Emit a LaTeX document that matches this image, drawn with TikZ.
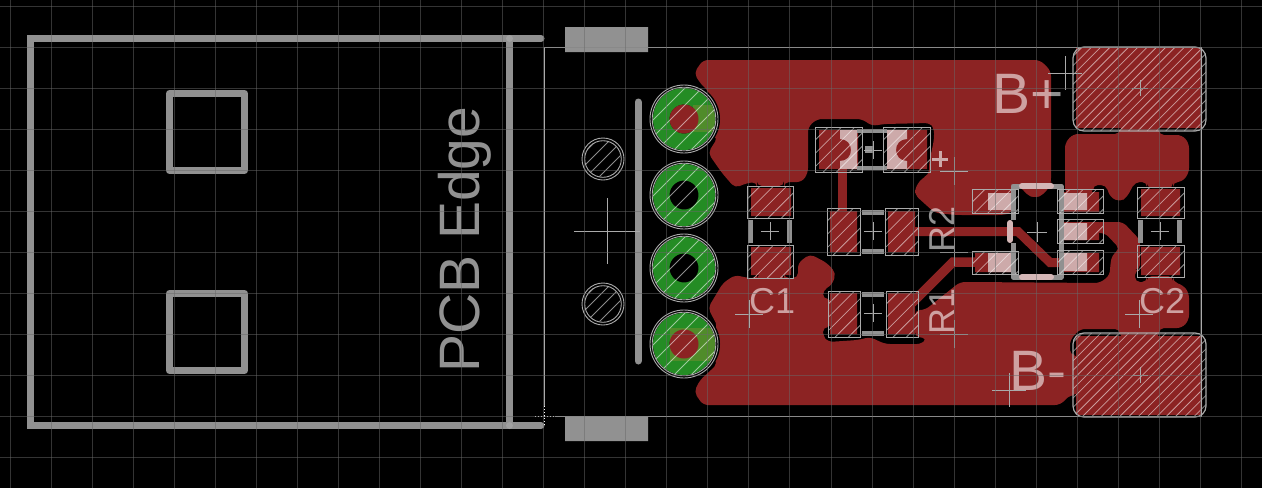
\documentclass[tikz,border=0pt]{standalone}
\usepackage{fontspec}
\setmainfont{Liberation Sans}
\definecolor{silk}{RGB}{145,145,145}
\definecolor{pale}{RGB}{205,170,170}
\definecolor{pour}{RGB}{140,35,35}
\definecolor{via}{RGB}{36,140,36}
\definecolor{vialt}{RGB}{80,140,42}
\definecolor{padline}{RGB}{170,170,170}
\tikzset{
  pourfill/.style={fill=pour,rounded corners=5pt},
  silkline/.style={draw=silk,line width=7pt},
  bar/.style={draw=silk,line width=5pt},
  hatchline/.style={draw=white,opacity=.55,line width=.8pt},
  redpad/.style={fill=pour},
  patch/.style={fill=pale},
  cross/.style={draw=padline,line width=1pt},
  silktext/.style={text=silk,inner sep=0pt,font=\fontsize{36}{36}\selectfont},
  bigtext/.style={text=silk,inner sep=0pt,font=\fontsize{57}{57}\selectfont},
}
\newcommand{\xcross}[3]{\draw[cross] (#1-#3,#2) -- (#1+#3,#2) (#1,#2-#3) -- (#1,#2+#3);}
\newcommand{\hatchlines}[5]{%
  \pgfmathtruncatemacro\hn{(((#3)-(#1))+((#4)-(#2)))/(#5)+1}%
  \foreach \k in {0,...,\hn} \draw[hatchline] ({(#1)-((#4)-(#2))+\k*(#5)},{#4}) -- ++({(#4)-(#2)},{-((#4)-(#2))});%
}
\newcommand{\hpad}[5][13.3]{%
  \begin{scope}\clip (#2,#3) rectangle (#4,#5);\hatchlines{#2}{#3}{#4}{#5}{#1}\end{scope}%
  \draw[padline,line width=1pt] (#2,#3) rectangle (#4,#5);%
}
\newcommand{\bigpad}[4]{%
  \begin{scope}\clip[rounded corners=11pt] (#1,#2) rectangle (#3,#4);\hatchlines{#1}{#2}{#3}{#4}{9.3}\end{scope}%
  \draw[padline,line width=1.2pt,rounded corners=11pt] (#1,#2) rectangle (#3,#4);%
}
\newcommand{\thole}[2]{%
  \fill[black] (#1,#2) circle (36);
  \fill[via,even odd rule] (#1,#2) circle (31) (#1,#2) circle (14.5);
}
\newcommand{\tholetop}[2]{%
  \begin{scope}\clip (#1,#2) circle (31.5);\hatchlines{#1-32}{#2-32}{#1+32}{#2+32}{17}\end{scope}
  \draw[padline,line width=.9pt] (#1,#2) circle (34) (#1,#2) circle (31.8);
}
\newcommand{\mhole}[2]{%
  \begin{scope}\clip (#1,#2) circle (18);\hatchlines{#1-19}{#2-19}{#1+19}{#2+19}{13}\end{scope}
  \draw[padline,line width=.9pt] (#1,#2) circle (21) (#1,#2) circle (18.3);
}
\begin{document}
\begin{tikzpicture}[x=1pt,y=-1pt]
\useasboundingbox (0,0) rectangle (1262,488);
\fill[black] (0,0) rectangle (1262,488);

% copper pours
\fill[pourfill] (703,60) -- (1040,60) -- (1051,71) -- (1051,183) -- (1050,186) -- (1043,195) -- (1035,198) -- (1027,195) -- (1020,186)
  -- (1012,188) -- (1012,213) -- (1003,215) -- (957,215) -- (935,213) -- (915,195) -- (915,188) -- (922,178) -- (929,175) -- (929,163)
  -- (934,140) -- (934,128) -- (930,123) -- (884,124) -- (872,126) -- (862,119) -- (817,119) -- (808,127) -- (808,173) -- (802,182)
  -- (784,182) -- (784,186) -- (757,186) -- (757,182) -- (747,183) -- (735,188) -- (722,173) -- (708,153) -- (718,137)
  -- (700,135) -- (690,119) -- (710,93) -- (700,83) -- (694,73) -- cycle;
\fill[pourfill] (1073,134) -- (1120,134) -- (1120,126) -- (1159,126) -- (1159,135) -- (1182,135) -- (1189,143) -- (1189,173) -- (1182,182)
  -- (1173,182) -- (1173,188) -- (1147,188) -- (1147,182) -- (1135,182) -- (1127,197) -- (1120,202) -- (1110,197) -- (1106,185)
  -- (1093,185) -- (1093,194) -- (1065,194) -- (1065,143) -- cycle;
\fill[pourfill] (703,405) -- (1060,405) -- (1070,395) -- (1078,395) -- (1078,355) -- (1070,355) -- (1070,340) -- (1080,329) -- (1120,329)
  -- (1120,338) -- (1159,338) -- (1159,328) -- (1182,328) -- (1189,320) -- (1189,293) -- (1183,285) -- (1173,282) -- (1173,276) -- (1147,276)
  -- (1147,282) -- (1135,282) -- (1135,270) -- (1140,270) -- (1140,240) -- (1123,222) -- (1095,222) -- (1095,233) -- (1105,233)
  -- (1120,249) -- (1112,255) -- (1110,267) -- (1110,275) -- (1100,283) -- (970,282) -- (960,282) -- (925,310) -- (915,310) -- (915,337)
  -- (927,338) -- (922,344) -- (885,344) -- (870,337) -- (858,340) -- (828,342) -- (823,336) -- (823,327) -- (832,327) -- (832,299)
  -- (823,299) -- (823,290) -- (832,285) -- (836,273) -- (827,263) -- (810,254) -- (798,263) -- (798,278) -- (784,278) -- (784,274)
  -- (757,274) -- (757,278) -- (748,278) -- (735,275) -- (723,283) -- (708,308) -- (718,327) -- (700,344) -- (718,363) -- (708,373) -- (700,380) -- (694,392) -- cycle;
% traces
\draw[pour,line width=9pt] (842.5,165) -- (842.5,215);
\draw[pour,line width=9pt] (912,231.5) -- (1018,231.5) -- (1050,262.5) -- (1065,262.5);
\draw[pour,line width=9.5pt] (912,303) -- (953,262) -- (985,262);

% copper under pads
\fill[redpad] (1076,48) rectangle (1202,128) (1076,336) rectangle (1202,415);
\fill[redpad] (751,188) rectangle (791,216) (751,247) rectangle (791,275);
\fill[redpad] (1141,189) rectangle (1180,216) (1141,247) rectangle (1180,275);
\fill[redpad] (830,211) rectangle (857,252) (888,211) rectangle (915,252);
\fill[redpad] (830,293) rectangle (857,334) (888,293) rectangle (915,334);
\fill[redpad] (819,130) rectangle (858,169) (887,130) rectangle (927,169);
\fill[redpad] (973,191) rectangle (1012,212) (975,253) rectangle (1015,272);
\fill[redpad] (1060,192) rectangle (1099,212) (1060,222) rectangle (1099,240) (1060,253) rectangle (1099,272);

% through holes
\thole{684}{119}\thole{684}{195}\thole{684}{268}\thole{684}{344}
\begin{scope}
  \clip (684,119) circle (31);
  \fill[vialt] (693,105) rectangle (716,132);
\end{scope}
\begin{scope}
  \clip (684,344) circle (31);
  \fill[vialt] (670,328) rectangle (716,361);
\end{scope}
\fill[pour] (684,119) circle (14.5) (684,344) circle (14.5);
\tholetop{684}{119}\tholetop{684}{195}\tholetop{684}{268}\tholetop{684}{344}
\mhole{603}{159}\mhole{603}{304}

% paste patches
\fill[patch] (988,193) rectangle (1015,210) (1060,193) rectangle (1087,210) (1060,223) rectangle (1087,240)
  (1060,253) rectangle (1087,271) (988,253) rectangle (1015,272);
\fill[patch] (840,130) -- (857,130) -- (857,169) -- (840,169) -- (840,161) .. controls (847,161) and (851,156) .. (851,150) .. controls (851,144) and (847,139) .. (840,139) -- cycle;
\fill[patch] (887,130) -- (907,130) -- (907,139) .. controls (900,139) and (896,144) .. (896,150) .. controls (896,156) and (900,161) .. (907,161) -- (907,169) -- (887,169) -- cycle;

% silk
\draw[silkline,line cap=round] (541,38.5) -- (30.5,38.5) -- (30.5,425.5) -- (541,425.5);
\draw[silkline] (509.5,38.5) -- (509.5,425.5);
\fill[silk!85!white] (509.5,38.5) circle (3.5) (509.5,425.5) circle (3.5);
\draw[silkline,line join=round] (169.5,93.5) rectangle (244.5,170.5);
\draw[silkline,line join=round] (169.5,293.5) rectangle (244.5,370.5);
\draw[silkline,line cap=round] (638,102) -- (638,361);
\fill[silk] (565,27) rectangle (648,52) (565,417) rectangle (648,441);

% component bars
\draw[bar] (750,220) -- (750,243) (789,220) -- (789,243);
\draw[bar] (1140,220) -- (1140,243) (1179,220) -- (1179,243);
\draw[bar] (862,212) -- (884,212) (862,251) -- (884,251);
\draw[bar] (862,294) -- (884,294) (862,333) -- (884,333);
\draw[silk,line width=4pt] (857,131) -- (887,131) (857,168) -- (887,168);
\fill[silk] (865,146) rectangle (873,153);
\draw[bar,line join=round] (1013,220) -- (1013,186) -- (1061,186) -- (1061,277) -- (1013,277) -- (1013,243);
\draw[bar,pale!85!white,line width=6pt,line cap=round] (1022,186) -- (1051,186) (1022,277) -- (1051,277) (1010,223) -- (1010,240);
\draw[pale,line width=3pt] (932,159) -- (948,159) (940,151) -- (940,167);

% pad outlines
\hpad{747}{186}{793}{218}
\hpad{747}{245}{793}{278}
\hpad{1137}{187}{1184}{218}
\hpad{1137}{245}{1184}{277}
\hpad{827}{208}{860}{255}
\hpad{885}{208}{918}{255}
\hpad{828}{291}{860}{337}
\hpad{886}{291}{918}{337}
\hpad{815}{127}{862}{172}
\hpad{883}{127}{930}{172}
\hpad{972}{189}{1018}{213}
\hpad{1057}{189}{1103}{213}
\hpad{1057}{219}{1103}{243}
\hpad{1057}{250}{1103}{274}
\hpad{972}{251}{1018}{274}
\bigpad{1073}{47}{1206}{131}
\bigpad{1073}{333}{1206}{417}

% board outline
\draw[padline,line width=1pt] (555,416) -- (1201,416) -- (1201,47) -- (544.5,47) -- (544.5,406);
\draw[white,line width=1pt,dotted] (535,416) -- (555,416) (544.5,406) -- (544.5,426);

% origins and crosses
\xcross{607}{231}{33}
\xcross{770}{231}{9}\xcross{873}{231}{9}\xcross{873}{313}{9}\xcross{873}{150}{9}
\xcross{1037}{232}{10}\xcross{1160}{231}{9}
\xcross{1140}{88}{8}\xcross{1140}{375}{8}
\xcross{954}{171}{14}\xcross{954}{252}{14}\xcross{954}{334}{14}
\xcross{749}{314}{14}\xcross{1139}{314}{14}
\xcross{1065}{73}{17}\xcross{1009}{390}{17}

% text
\begin{scope}[blend mode=screen]
\node[bigtext,rotate=90,anchor=base west] (pcbedge) at (479,373) {PCB Edge};
\node[silktext,rotate=90,anchor=base west] (r2) at (954,253) {R2};
\node[silktext,rotate=90,anchor=base west] (r1) at (954,335) {R1};
\node[silktext,anchor=base west] (c1) at (749,313) {C1};
\node[silktext,anchor=base west] (c2) at (1139,313) {C2};
\node[bigtext,anchor=base west] (bplus) at (992,113) {B+};
\node[bigtext,anchor=base west] (bminus) at (1009,390) {B-};
\end{scope}

% grid
\begin{scope}[draw={rgb,255:red,105;green,105;blue,105},opacity=.5,line width=1pt]
\foreach \k in {0,...,30} \draw (10+41.05*\k,0) -- (10+41.05*\k,488);
\foreach \k in {0,...,11} \draw (0,6+41.05*\k) -- (1262,6+41.05*\k);
\end{scope}
\end{tikzpicture}
\end{document}
